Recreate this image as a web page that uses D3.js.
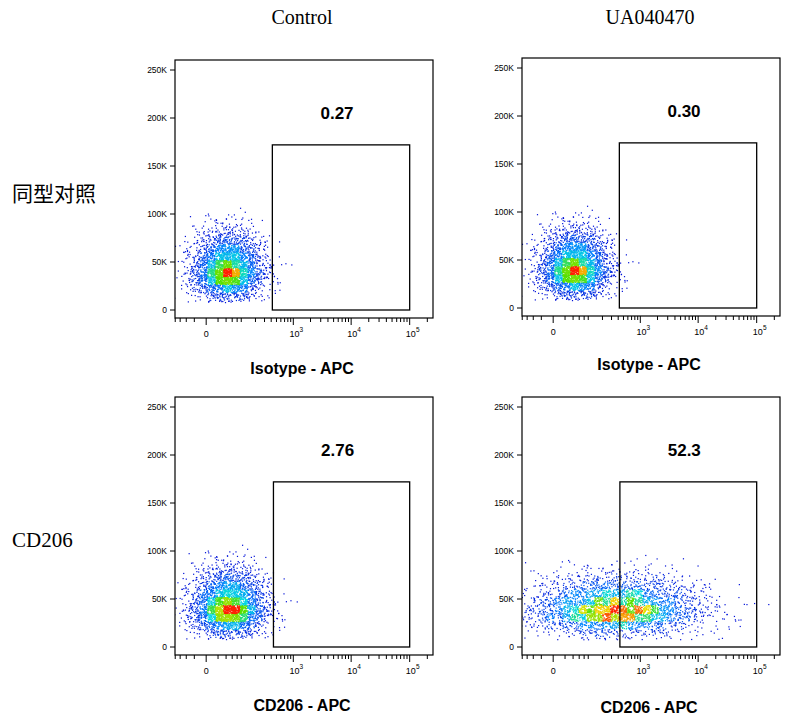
<!DOCTYPE html>
<html><head><meta charset="utf-8">
<script src="https://cdn.jsdelivr.net/npm/d3@7"></script>
<style>body{margin:0;background:#fff}</style></head>
<body><svg id="c" width="799" height="726"></svg>
<script>
const columns = ["Control", "UA040470"];
const rows = ["同型对照", "CD206"];
const axisTitles = ["Isotype - APC", "Isotype - APC", "CD206 - APC", "CD206 - APC"];
const gatePercents = ["0.27", "0.30", "2.76", "52.3"];
const yTicks = [0, 50000, 100000, 150000, 200000, 250000];
const yTickLabels = ["0", "50K", "100K", "150K", "200K", "250K"];
const xTicks = [0, 1000, 10000, 100000];
// cluster descriptors per panel: centre (display decades), spread, centre Y, spread Y, events
const clusterX = [0.36, 0.36, 0.38, 1.05];
const clusterSX = [0.30, 0.30, 0.32, 0.72];
const clusterY = [42000, 42000, 42000, 40000];
const clusterSY = [15000, 15000, 15000, 13000];
const events = [3200, 3200, 3200, 3600];
const gateLow = [420, 420, 440, 430];
const gateHigh = [100000, 100000, 100000, 100000];
const gateTop = [172000, 172000, 172000, 172000];

const panels = [[175,60],[522,58],[175,397],[522,397]];
const W = 258, H = 258, C = 33.7;
const svg = d3.select("#c");
const x = d3.scaleSymlog().constant(C).domain([-81, 250000]).range([0, W]);
const y = d3.scaleLinear().domain([0, 250000]).range([250, 10]);
function tToVal(t){ return t >= 0 ? C*(Math.pow(10,t)-1) : -C*(Math.pow(10,-t)-1); }
function halton(i, b){ let f=1, r=0; while(i>0){ f/=b; r+=f*(i%b); i=Math.floor(i/b);} return r; }
const jet = d3.scaleLinear().domain([0,0.25,0.45,0.65,0.82,1]).range(["#0010d8","#0080ff","#00d8e0","#50e000","#f0e000","#ff2000"]).clamp(true);

svg.append("defs").append("clipPath").attr("id","clip").append("rect").attr("width",W).attr("height",H);

svg.selectAll(".col").data(columns).enter().append("text")
  .attr("x",(d,i)=>[302,650][i]).attr("y",24).attr("text-anchor","middle")
  .style("font-family","Liberation Serif, serif").style("font-size","20px").text(d=>d);
svg.selectAll(".row").data(rows).enter().append("text")
  .attr("x",12).attr("y",(d,i)=>[201,547][i])
  .style("font-family","Liberation Serif, Noto Sans CJK SC, serif").style("font-size","21px").text(d=>d);

panels.forEach((p,k)=>{
  const g = svg.append("g").attr("transform",`translate(${p[0]},${p[1]})`);
  const pts = [];
  for(let i=1;i<=events[k];i++){
    const u1 = halton(i+k*7,2)||0.5, u2 = halton(i+k*7,3), u3 = halton(i+k*7,5), u4 = halton(i+k*7,7);
    const r = Math.sqrt(-2*Math.log(Math.max(u1,1e-4)));
    const r2 = Math.sqrt(-2*Math.log(Math.max(u3,1e-4)));
    const t = clusterX[k] + clusterSX[k]*r*Math.cos(2*Math.PI*u2);
    let yy = clusterY[k] + clusterSY[k]*r2*Math.cos(2*Math.PI*u4);
    if (yy > clusterY[k]) yy = clusterY[k] + (yy-clusterY[k])*1.35;
    if (yy < 8000) continue;
    pts.push([tToVal(t), yy]);
  }
  const grid = new Map(); const cell = 8;
  const key = d => Math.floor(x(d[0])/cell)+","+Math.floor(y(d[1])/cell);
  pts.forEach(d=>grid.set(key(d),(grid.get(key(d))||0)+1));
  const mx = d3.max([...grid.values()]);
  pts.sort((a,b)=>grid.get(key(a))-grid.get(key(b)));
  g.append("g").attr("clip-path","url(#clip)").selectAll("rect.e").data(pts).enter().append("rect")
    .attr("x",d=>x(d[0])).attr("y",d=>y(d[1])).attr("width",1.2).attr("height",1.2)
    .attr("fill",d=>jet(Math.pow(grid.get(key(d))/mx,1.5)));
  g.append("rect").attr("width",W).attr("height",H).attr("fill","none").attr("stroke","#000").attr("stroke-width",1.2);
  g.append("rect").attr("x",x(gateLow[k])).attr("y",y(gateTop[k]))
    .attr("width",x(gateHigh[k])-x(gateLow[k])).attr("height",y(0)-y(gateTop[k]))
    .attr("fill","none").attr("stroke","#000").attr("stroke-width",1.3);
  g.append("text").attr("x",(x(gateLow[k])+x(gateHigh[k]))/2-4).attr("y",y(gateTop[k])-26)
    .attr("text-anchor","middle").style("font-family","Liberation Sans, Arial").style("font-weight","bold").style("font-size","17px").text(gatePercents[k]);
  yTicks.forEach((v,i)=>{
    g.append("line").attr("x1",-5).attr("x2",0).attr("y1",y(v)).attr("y2",y(v)).attr("stroke","#000");
    g.append("text").attr("x",-8).attr("y",y(v)+3).attr("text-anchor","end")
      .style("font-family","Liberation Sans, Arial").style("font-size","8.5px").text(yTickLabels[i]);
  });
  const minors = [-80,-60,-40,-20,20,40,60,80,100,200,300,400,500,600,700,800,900];
  [1000,10000].forEach(dec=>{for(let m=2;m<=9;m++) minors.push(dec*m);});
  minors.push(200000);
  minors.forEach(v=>g.append("line").attr("x1",x(v)).attr("x2",x(v)).attr("y1",H).attr("y2",H+4).attr("stroke","#000"));
  xTicks.forEach(v=>{
    g.append("line").attr("x1",x(v)).attr("x2",x(v)).attr("y1",H).attr("y2",H+7).attr("stroke","#000");
    const t = g.append("text").attr("x",x(v)+(v?3:0)).attr("y",H+19).attr("text-anchor","middle")
      .style("font-family","Liberation Sans, Arial").style("font-size","9px");
    if(v===0) t.text("0"); else { t.text("10"); t.append("tspan").attr("dy",-5).style("font-size","6.5px").text(Math.round(Math.log10(v))); }
  });
  g.append("text").attr("x",127).attr("y",H+56-(k===1?2:0)+(k===3?2:0)).attr("text-anchor","middle")
    .style("font-family","Liberation Sans, Arial").style("font-weight","bold").style("font-size","16px").text(axisTitles[k]);
});
</script></body></html>
